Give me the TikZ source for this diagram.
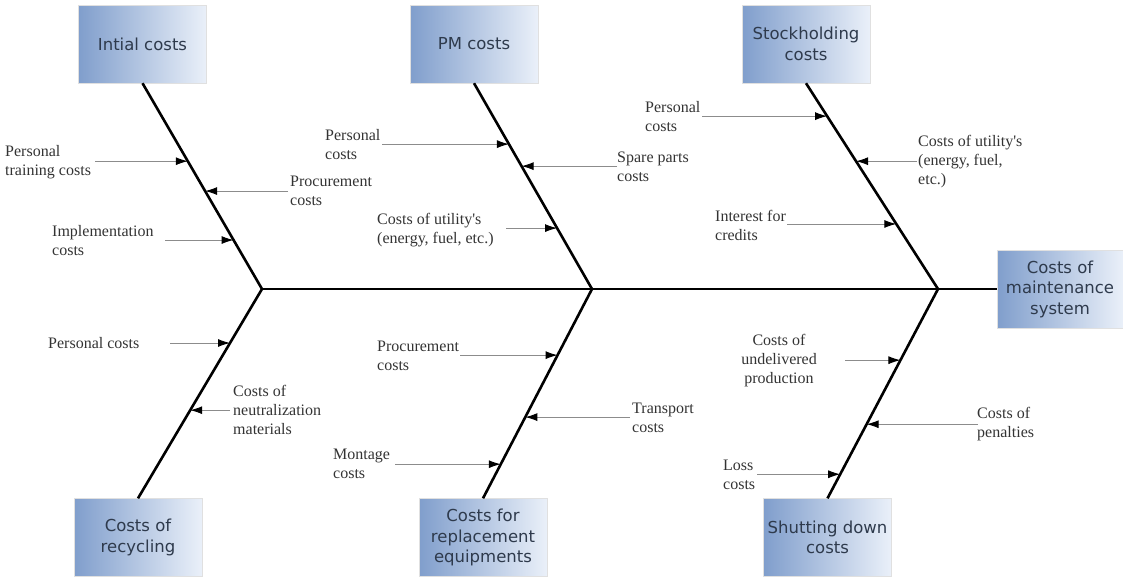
\documentclass[tikz,border=0pt]{standalone}
\usepackage{fontspec}
\setmainfont{Liberation Serif}
\newfontfamily\boxfont{DejaVu Sans}
\usetikzlibrary{arrows.meta,calc}
\definecolor{boxdark}{RGB}{128,158,204}
\definecolor{boxlight}{RGB}{234,240,249}
\definecolor{boxtext}{RGB}{46,58,76}
\definecolor{causeline}{RGB}{140,140,140}
\tikzset{
  costbox/.style={left color=boxdark, right color=boxlight, draw=black!12,
    minimum width=128pt, minimum height=78pt, align=center, inner sep=0pt,
    text=boxtext, font={\boxfont\fontsize{16.5}{20.5}\selectfont}},
  bone/.style={line width=2.6pt},
  cause/.style={draw=causeline, line width=0.9pt,
    -{Latex[color=black,length=12pt,width=8pt]}},
  lbl/.style={font={\fontsize{16}{19}\selectfont}, text=black!80,
    align=left, inner sep=0pt, anchor=west}
}

\begin{document}
\begin{tikzpicture}[x=1pt,y=-1pt]
\useasboundingbox (0,0) rectangle (1123,579);

% category boxes
\node[costbox] (ic) at (142.5,44) {Intial costs};
\node[costbox] (pm) at (474,44) {PM costs};
\node[costbox] (sh) at (806,44) {Stockholding\\costs};
\node[costbox, minimum width=126pt] (cm) at (1060,289) {Costs of\\maintenance\\system};
\node[costbox] (rc) at (138,537.5) {Costs of\\recycling};
\node[costbox] (re) at (483,537.5) {Costs for\\replacement\\equipments};
\node[costbox] (sd) at (827.5,537.5) {Shutting down\\costs};

% spine and bones
\coordinate (j1) at (262,289);
\coordinate (j2) at (592,289);
\coordinate (j3) at (938,289);
\draw[bone] (j1) -- (cm.west);
\draw[bone] (ic.south) -- (j1) -- (rc.north);
\draw[bone] (pm.south) -- (j2) -- (re.north);
\draw[bone] (sh.south) -- (j3) -- (sd.north);

% initial costs
\coordinate (ic1) at ($(ic.south)!0.379!(j1)$);
\coordinate (ic1s) at (95,0 |- ic1);
\draw[cause] (ic1s) -- (ic1);
\node[lbl] (ic1l) at (5,162) {Personal\\training costs};

\coordinate (ic2) at ($(ic.south)!0.524!(j1)$);
\coordinate (ic2s) at (288,0 |- ic2);
\draw[cause] (ic2s) -- (ic2);
\node[lbl] (ic2l) at (290,191) {Procurement\\costs};

\coordinate (ic3) at ($(ic.south)!0.762!(j1)$);
\coordinate (ic3s) at (165,0 |- ic3);
\draw[cause] (ic3s) -- (ic3);
\node[lbl] (ic3l) at (52,241) {Implementation\\costs};

% PM costs
\coordinate (pm1) at ($(pm.south)!0.296!(j2)$);
\coordinate (pm1s) at (382,0 |- pm1);
\draw[cause] (pm1s) -- (pm1);
\node[lbl] (pm1l) at (325,145) {Personal\\costs};

\coordinate (pm2) at ($(pm.south)!0.403!(j2)$);
\coordinate (pm2s) at (617,0 |- pm2);
\draw[cause] (pm2s) -- (pm2);
\node[lbl] (pm2l) at (617,167) {Spare parts\\costs};

\coordinate (pm3) at ($(pm.south)!0.704!(j2)$);
\coordinate (pm3s) at (506,0 |- pm3);
\draw[cause] (pm3s) -- (pm3);
\node[lbl] (pm3l) at (377,230) {Costs of utility\textquotesingle s\\(energy, fuel, etc.)};

% stockholding costs
\coordinate (sh1) at ($(sh.south)!0.160!(j3)$);
\coordinate (sh1s) at (702,0 |- sh1);
\draw[cause] (sh1s) -- (sh1);
\node[lbl] (sh1l) at (645,117) {Personal\\costs};

\coordinate (sh2) at ($(sh.south)!0.379!(j3)$);
\coordinate (sh2s) at (917,0 |- sh2);
\draw[cause] (sh2s) -- (sh2);
\node[lbl] (sh2l) at (918,162) {Costs of utility\textquotesingle s\\(energy, fuel,\\etc.)};

\coordinate (sh3) at ($(sh.south)!0.684!(j3)$);
\coordinate (sh3s) at (787,0 |- sh3);
\draw[cause] (sh3s) -- (sh3);
\node[lbl] (sh3l) at (715,225) {Interest for\\credits};

% costs of recycling
\coordinate (rc1) at ($(j1)!0.258!(rc.north)$);
\coordinate (rc1s) at (170,0 |- rc1);
\draw[cause] (rc1s) -- (rc1);
\node[lbl] (rc1l) at (48,343) {Personal costs};

\coordinate (rc2) at ($(j1)!0.579!(rc.north)$);
\coordinate (rc2s) at (230,0 |- rc2);
\draw[cause] (rc2s) -- (rc2);
\node[lbl] (rc2l) at (233,410) {Costs of\\neutralization\\materials};

% costs for replacement
\coordinate (re1) at ($(j2)!0.316!(re.north)$);
\coordinate (re1s) at (460,0 |- re1);
\draw[cause] (re1s) -- (re1);
\node[lbl] (re1l) at (377,355.5) {Procurement\\costs};

\coordinate (re2) at ($(j2)!0.612!(re.north)$);
\coordinate (re2s) at (630,0 |- re2);
\draw[cause] (re2s) -- (re2);
\node[lbl] (re2l) at (632,418) {Transport\\costs};

\coordinate (re3) at ($(j2)!0.837!(re.north)$);
\coordinate (re3s) at (395,0 |- re3);
\draw[cause] (re3s) -- (re3);
\node[lbl] (re3l) at (333,464) {Montage\\costs};

% shutting down costs
\coordinate (sd1) at ($(j3)!0.340!(sd.north)$);
\coordinate (sd1s) at (845,0 |- sd1);
\draw[cause] (sd1s) -- (sd1);
\node[lbl, align=center, anchor=center] (sd1l) at (779,361) {Costs of\\undelivered\\production};

\coordinate (sd2) at ($(j3)!0.646!(sd.north)$);
\coordinate (sd2s) at (978,0 |- sd2);
\draw[cause] (sd2s) -- (sd2);
\node[lbl] (sd2l) at (977,424.5) {Costs of\\penalties};

\coordinate (sd3) at ($(j3)!0.885!(sd.north)$);
\coordinate (sd3s) at (757,0 |- sd3);
\draw[cause] (sd3s) -- (sd3);
\node[lbl] (sd3l) at (723,475) {Loss\\costs};

\end{tikzpicture}
\end{document}
